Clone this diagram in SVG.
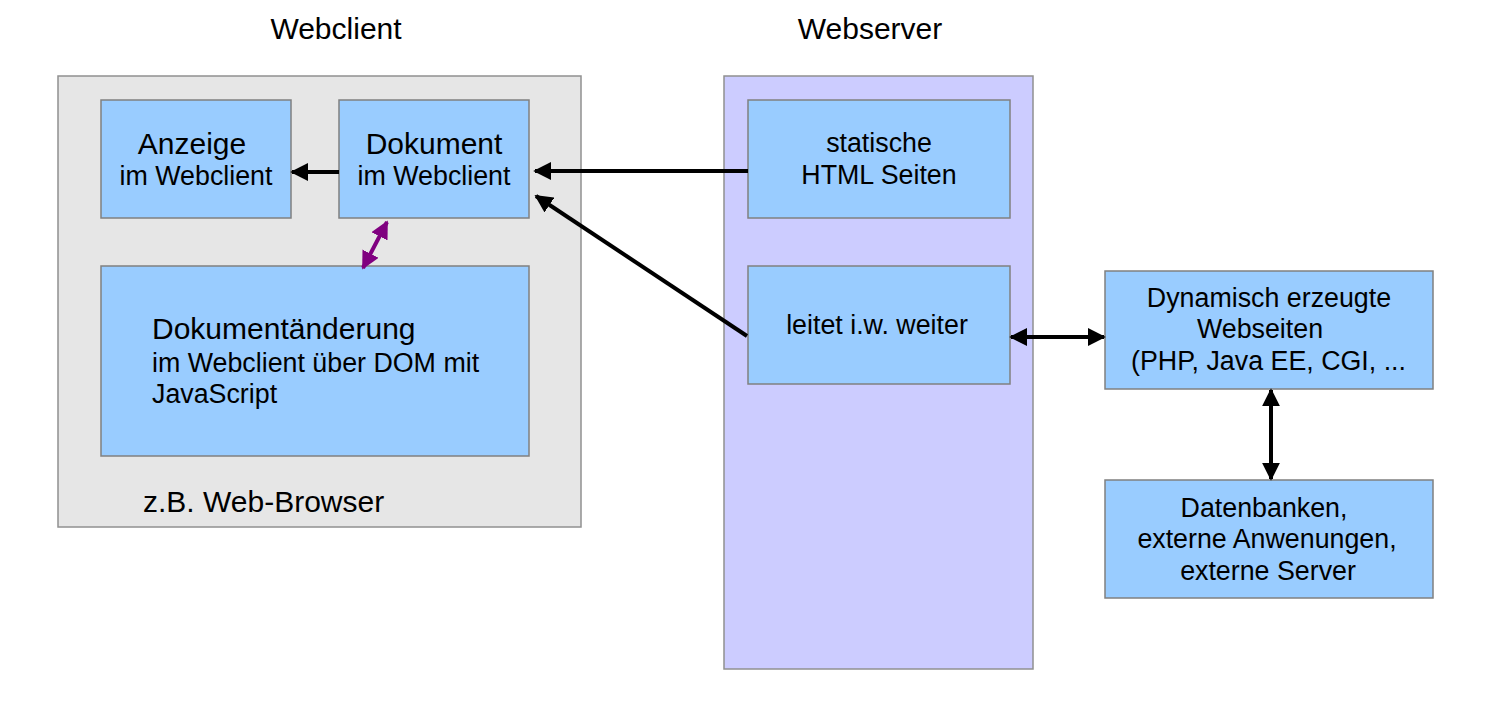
<svg xmlns="http://www.w3.org/2000/svg" width="1492" height="704" viewBox="0 0 1492 704">
  <style>
    text { font-family: "Liberation Sans", Arial, sans-serif; fill: #000; }
    .title { font-size: 30px; text-anchor: middle; }
    .big { font-size: 30px; }
    .small { font-size: 26.8px; }
    .mid { text-anchor: middle; }
    .box { fill: #99ccff; stroke: #808080; stroke-width: 1.5; }
    .client { fill: #e6e6e6; stroke: #909090; stroke-width: 1.5; }
    .server { fill: #ccccff; stroke: #909090; stroke-width: 1.5; }
    .conn { stroke: #000; stroke-width: 4; fill: none; }
    .purple { stroke: #800080; stroke-width: 4; fill: none; }
  </style>
  <defs>
    <marker id="ah" viewBox="0 0 10 10" refX="9" refY="5" markerWidth="4.5" markerHeight="4.5" orient="auto-start-reverse" markerUnits="strokeWidth">
      <path d="M0,0 L10,5 L0,10 Z" fill="#000"/>
    </marker>
    <marker id="ahp" viewBox="0 0 10 10" refX="9" refY="5" markerWidth="4.5" markerHeight="4.5" orient="auto-start-reverse" markerUnits="strokeWidth">
      <path d="M0,0 L10,5 L0,10 Z" fill="#800080"/>
    </marker>
  </defs>

  <rect width="1492" height="704" fill="#fff"/>

  <g id="titles">
    <text class="title" x="336" y="39">Webclient</text>
    <text class="title" x="870" y="39">Webserver</text>
  </g>

  <g id="webclient">
    <rect class="client" x="58" y="76" width="523" height="451"/>
    <text class="big" x="143" y="512">z.B. Web-Browser</text>
  </g>

  <g id="webserver">
    <rect class="server" x="724" y="76" width="309" height="593"/>
  </g>

  <g id="anzeige">
    <rect class="box" x="101" y="100" width="190" height="118"/>
    <text class="big mid" x="192" y="154">Anzeige</text>
    <text class="small mid" x="196" y="185">im Webclient</text>
  </g>

  <g id="dokument">
    <rect class="box" x="339" y="100" width="190" height="118"/>
    <text class="big mid" x="434" y="154">Dokument</text>
    <text class="small mid" x="434" y="185">im Webclient</text>
  </g>

  <g id="dokumentaenderung">
    <rect class="box" x="101" y="266" width="428" height="190"/>
    <text class="big" x="152" y="339">Dokumentänderung</text>
    <text class="small" x="152" y="372">im Webclient über DOM mit</text>
    <text class="small" x="152" y="403">JavaScript</text>
  </g>

  <g id="statische">
    <rect class="box" x="748" y="100" width="262" height="118"/>
    <text class="small mid" x="879" y="152">statische</text>
    <text class="small mid" x="879" y="184">HTML Seiten</text>
  </g>

  <g id="leitet">
    <rect class="box" x="748" y="266" width="262" height="118"/>
    <text class="small mid" x="877" y="334">leitet i.w. weiter</text>
  </g>

  <g id="dynamisch">
    <rect class="box" x="1105" y="271" width="328" height="118"/>
    <text class="small mid" x="1269" y="307">Dynamisch erzeugte</text>
    <text class="small mid" x="1260" y="338">Webseiten</text>
    <text class="small" x="1131" y="370">(PHP, Java EE, CGI, ...</text>
  </g>

  <g id="datenbanken">
    <rect class="box" x="1105" y="480" width="328" height="118"/>
    <text class="small mid" x="1264" y="517">Datenbanken,</text>
    <text class="small mid" x="1267" y="548">externe Anwenungen,</text>
    <text class="small mid" x="1268" y="580">externe Server</text>
  </g>

  <g id="connectors">
    <line class="conn" x1="339" y1="172" x2="292" y2="172" marker-end="url(#ah)"/>
    <line class="conn" x1="748" y1="171" x2="535" y2="171" marker-end="url(#ah)"/>
    <line class="conn" x1="747" y1="336" x2="536" y2="196" marker-end="url(#ah)"/>
    <line class="purple" x1="387" y1="222" x2="363" y2="268" marker-start="url(#ahp)" marker-end="url(#ahp)"/>
    <line class="conn" x1="1011" y1="337" x2="1104" y2="337" marker-start="url(#ah)" marker-end="url(#ah)"/>
    <line class="conn" x1="1271" y1="390" x2="1271" y2="479" marker-start="url(#ah)" marker-end="url(#ah)"/>
  </g>
</svg>
